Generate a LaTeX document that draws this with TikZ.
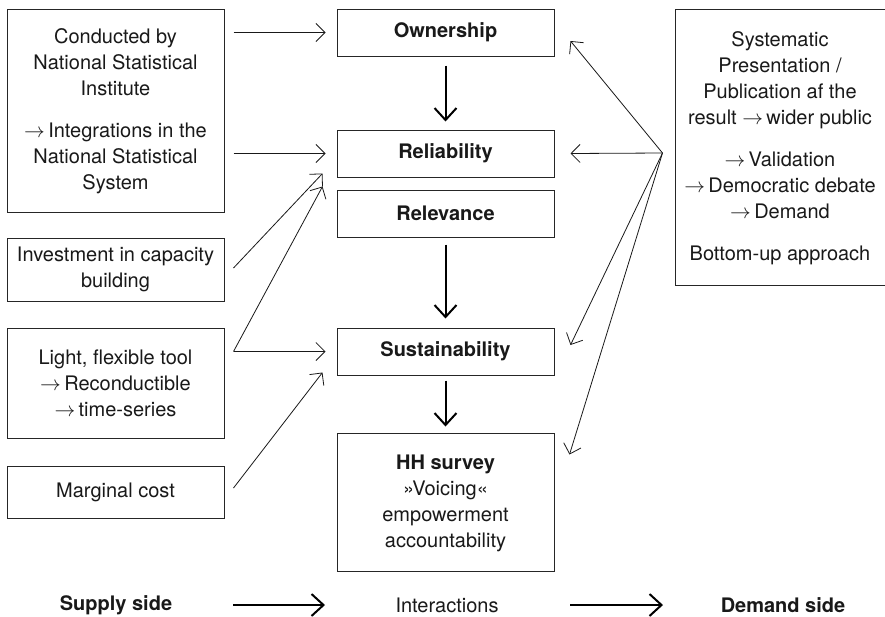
\documentclass[tikz,border=0pt]{standalone}
\usepackage{fontspec}
\setmainfont{TeX Gyre Heros}
\usetikzlibrary{arrows.meta,calc}
\begin{document}
\begin{tikzpicture}[x=1pt,y=-1pt,
  boxst/.style={draw=black!85, line width=1pt, inner sep=0pt, align=center,
    text=black!90, font=\fontsize{20}{26}\selectfont},
  titlest/.style={boxst, minimum width=217pt, minimum height=47pt,
    font=\fontsize{20}{26}\selectfont\bfseries},
  lbl/.style={inner sep=0pt, text=black!90, font=\fontsize{20}{26}\selectfont},
  thinarr/.style={line width=0.8pt, draw=black!90,
    -{Straight Barb[length=9pt,width=18pt]}},
  thickarr/.style={line width=2pt, draw=black,
    -{Straight Barb[length=12pt,width=22pt]}}
]
\useasboundingbox (0,0) rectangle (885,616);
\clip (0,0) rectangle (885,616);
\fill[white] (0,0) rectangle (885,616);

% left boxes
\node[boxst, minimum width=217pt, minimum height=203pt] (lb1) at (115.5,110.5) {};
\node[lbl, align=center] at (115.5,111) {Conducted by\\ National Statistical\\ Institute\\[16pt]
  $\rightarrow$\,Integrations in the\\ National Statistical\\ System};
\node[boxst, minimum width=217pt, minimum height=63pt] (inv) at (115.5,269.5) {Investment in capacity\\ building};
\node[boxst, minimum width=217pt, minimum height=110pt] (lt) at (115.5,383) {Light, flexible tool\\ $\rightarrow$\,Reconductible\\ $\rightarrow$\,time-series};
\node[boxst, minimum width=217pt, minimum height=52pt] (mc) at (115.5,492) {Marginal cost};

% centre boxes
\node[titlest] (own) at (445.5,32.5) {Ownership};
\node[titlest] (rel) at (445.5,153.5) {Reliability};
\node[titlest] (rlv) at (445.5,213.5) {Relevance};
\node[titlest] (sus) at (445.5,351.5) {Sustainability};
\node[boxst, minimum width=217pt, minimum height=138pt] (hh) at (445.5,502) {};
\node[lbl, align=center] at (445.5,503) {\textbf{HH survey}\\ »Voicing«\\ empowerment\\ accountability};

% right box
\node[boxst, minimum width=212pt, minimum height=276pt] (rb) at (781,147) {};
\node[lbl, align=center] at (780,148) {Systematic\\ Presentation /\\ Publication af the\\ result $\rightarrow$\,wider public\\[16pt]
  $\rightarrow$\,Validation\\ $\rightarrow$\,Democratic debate\\ $\rightarrow$\,Demand\\[16pt] Bottom-up approach};

% left connectors
\draw[thinarr] ($(lb1.east |- own.west)+(9,0)$) -- ($(own.west)+(-11,0)$);
\draw[thinarr] ($(lb1.east |- rel.west)+(9,0)$) -- ($(rel.west)+(-11,0)$);
\draw[thinarr] ($(inv.east)+(9,-1.5)$) -- ($(rel.south west)+(-14,-4)$);
\coordinate (lts) at ($(lt.east |- sus.west)+(9,0)$);
\draw[thinarr] (lts) -- ($(sus.west)+(-11,0)$);
\draw[thinarr] (lts) -- ($(rlv.north west)+(-14,-3)$);
\draw[thinarr] ($(mc.east)+(9,-4)$) -- ($(sus.south west)+(-14,-3)$);

% vertical thick connectors
\draw[thickarr, shorten <=9pt, shorten >=8pt] (own) -- (rel);
\draw[thickarr, shorten <=7pt, shorten >=9pt] (rlv) -- (sus);
\draw[thickarr, shorten <=5pt, shorten >=6pt] (sus) -- (hh);

% right fan
\coordinate (fan) at ($(rb.west)+(-12,6)$);
\draw[thinarr] (fan) -- ($(own.east)+(16,8.5)$);
\draw[thinarr] (fan) -- ($(rel.east)+(16,0)$);
\draw[thinarr] (fan) -- ($(sus.east)+(16,-6.5)$);
\draw[thinarr] (fan) -- ($(hh.north east)+(15,22)$);

% bottom row
\node[lbl, font=\fontsize{20}{26}\selectfont\bfseries] (sup) at (116,605) {Supply side};
\node[lbl] (int) at (447,605) {Interactions};
\node[lbl, font=\fontsize{20}{26}\selectfont\bfseries] (dem) at (783,605) {Demand side};
\draw[thickarr] ($(sup.center)+(117,0)$) -- ($(int.center)+(-122,0)$);
\draw[thickarr] ($(int.center)+(123,0)$) -- ($(dem.center)+(-120,0)$);
\end{tikzpicture}
\end{document}
